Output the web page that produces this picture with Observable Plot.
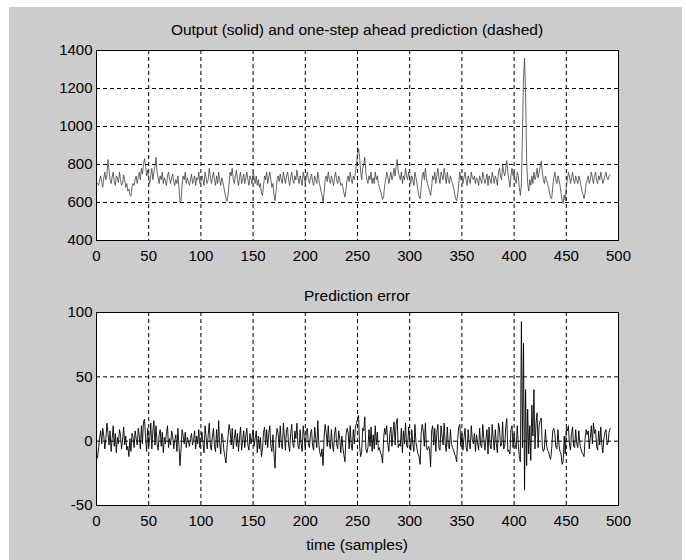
<!DOCTYPE html>
<html><head><meta charset="utf-8">
<script src="https://cdn.jsdelivr.net/npm/d3@7"></script>
<script src="https://cdn.jsdelivr.net/npm/@observablehq/plot@0.6"></script>
<style>
body{margin:0;background:#fff;}
#fig{position:relative;width:686px;height:560px;background:#fff;overflow:hidden;font-family:"Liberation Sans",Arial,sans-serif;}
#bg{position:absolute;left:9px;top:7px;width:673px;height:553px;background:#cccccc;}
.t{position:absolute;font-size:15.5px;line-height:16px;color:#000;white-space:nowrap;transform:translateX(-50%);}
#fig svg{position:absolute;left:0;top:0;}
</style></head><body>
<div id="fig"><div id="bg"></div></div>
<script>
const titleTop = "Output (solid) and one-step ahead prediction (dashed)";
const titleBottom = "Prediction error";
const xLabel = "time (samples)";
const xTicks = [0, 50, 100, 150, 200, 250, 300, 350, 400, 450, 500];
const yTicksTop = [400, 600, 800, 1000, 1200, 1400];
const yTicksBottom = [-50, 0, 50, 100];

// measured output, samples 1..492
const output = [
700,690,720,740,705,680,730,760,720,745,
826,770,720,700,735,760,710,690,740,730,
705,760,720,690,700,745,720,680,700,660,
670,640,633,680,700,690,720,740,700,730,
760,720,780,750,800,831,790,740,770,720,
700,740,780,720,760,790,837,760,730,700,
740,720,760,700,730,710,690,740,760,720,
700,730,750,710,690,720,700,740,680,602,
610,690,740,720,760,700,730,710,690,720,
750,700,720,740,690,730,720,760,700,710,
740,720,690,760,730,700,720,780,740,700,
730,760,720,690,740,700,760,720,690,730,
710,680,650,620,607,640,700,760,740,780,
720,700,740,770,720,690,730,760,700,720,
750,700,730,760,720,690,740,720,700,760,
730,700,740,690,720,680,700,650,637,690,
740,720,760,700,730,760,720,680,700,640,
610,660,720,740,710,750,720,700,760,730,
700,740,760,720,690,730,760,720,700,740,
720,770,730,700,740,720,690,760,730,700,
740,760,720,700,730,750,710,690,740,720,
700,760,720,690,660,640,602,650,720,740,
710,760,720,700,740,720,690,730,760,720,
700,740,720,690,700,680,650,628,670,720,
740,710,760,720,700,740,720,760,800,860,
884,840,760,720,780,800,838,760,720,700,
740,720,760,700,730,700,760,720,740,700,
680,660,640,616,630,690,720,760,740,700,
730,760,720,740,780,740,790,826,760,740,
720,760,700,740,720,780,740,720,760,730,
700,740,720,690,760,730,700,660,630,620,
680,740,760,720,780,730,700,680,660,637,
680,740,720,760,700,740,780,730,700,760,
740,720,780,740,700,760,720,700,740,720,
700,680,650,620,610,640,700,760,720,740,
700,730,760,720,690,740,720,700,760,730,
720,740,700,730,720,690,740,720,700,760,
730,700,720,750,690,740,720,700,760,730,
700,740,720,690,760,780,740,720,800,760,
740,780,821,760,720,680,740,780,740,760,
720,700,760,740,680,637,700,960,1250,1360,
1180,820,700,660,720,690,740,700,760,720,
740,780,730,760,790,817,760,720,700,740,
720,700,680,650,625,620,680,730,760,720,
700,740,720,690,650,610,595,640,610,680,
720,760,740,700,730,760,720,700,740,720,
700,740,720,690,660,640,620,650,700,720,
740,700,720,760,730,700,740,760,720,700,
740,720,760,730,700,720,740,760,730,720,
740,745
];

// measured prediction error, samples 1..492
const error = [
-13,-5,3,8,-2,10,4,-6,2,14,
6,-3,8,-8,2,12,-4,6,-9,3,
-2,9,5,-6,1,11,-3,4,-7,-4,
-12,2,-8,6,3,-5,8,2,-3,10,
4,-6,12,-2,15,17,3,-8,10,-4,
2,14,-6,8,16,-3,12,-2,-7,5,
9,-4,7,-9,3,-2,6,12,-5,2,
-3,8,4,-6,1,5,-8,10,-4,-19,
-6,9,4,-2,7,-5,3,0,-4,2,
6,-3,1,8,-6,4,-2,9,-5,1,
7,-2,-9,12,3,-6,5,14,-3,-7,
4,10,-4,-8,9,-5,16,-2,-10,6,
3,-7,-12,-17,-5,4,13,8,-3,10,
-6,2,9,-4,6,-8,3,11,-7,1,
8,-5,4,10,-3,-7,6,-2,3,9,
-4,2,8,-9,4,-6,3,-12,-6,7,
11,-3,9,-5,6,12,-4,-8,5,-10,
-21,3,10,6,-5,12,-2,-6,14,4,
-7,9,11,-3,-8,6,13,-2,-5,8,
2,14,-4,-6,9,-2,-8,12,3,-7,
8,10,-3,-5,6,9,-4,-7,11,2,
-5,16,-3,-9,-12,-6,-19,3,13,7,
-4,12,-2,-6,9,-3,-8,6,11,-2,
-6,8,2,-9,4,-5,-11,-16,5,10,
7,-6,12,-3,-7,9,-2,11,14,17,
20,-4,-12,-8,10,8,19,-6,-9,-5,
9,-4,11,-8,5,-6,12,-3,7,-7,
-5,-9,-11,-17,2,10,5,12,-2,-8,
6,11,-4,7,15,-3,13,17.6,-5,-2,
-4,10,-9,8,-2,14,-3,-5,11,2,
-7,9,-2,-8,13,-1,-6,-10,-12,-18,
6,13,8,-4,14,-5,-7,-4,-6,-20,
8,12,-3,10,-8,7,13,-5,-7,12,
4,-3,14,-2,-8,11,-4,-6,9,-2,
-5,-7,-10,-12,-16,2,11,13,-4,6,
-7,3,10,-5,-8,9,-2,-6,12,1,
-2,6,-8,5,-1,-7,10,-3,-5,13,
2,-7,1,9,-10,11,-3,-6,13,2,
-7,9,-2,-9,14,10,-4,-3,15,-6,
-4,11,17.6,-8,-7,-10,9,12,-5,6,
-3,-6,12,-2,-12,-16,93,-5,76,-38,
40,-19,25,-10,12,-15,28,4,40,-6,
14,22,-5,12,16,18,-4,-8,-6,9,
-3,-7,-8,-12,-14,-6,8,10,6,-5,
-6,9,-3,-8,-10,-18,-16,4,-10,10,
8,12,-2,-7,6,11,-4,-5,9,-2,
-5,8,-2,-6,-9,-10,-12,2,9,5,
8,-6,3,12,-2,14,6,9,-4,-7,
8,-3,11,-2,-9,2,7,9,-3,-1,
7,10
];

const topData = output.map((v, i) => ({t: i + 1, v}));
const botData = error.map((v, i) => ({t: i + 1, v}));
const FONT = '"Liberation Sans",Arial,sans-serif';
const fmt = d => String(d);

function panel({data, yDomain, yTicks, mTop, mBottom, stroke, sw}) {
  return Plot.plot({
    width: 686, height: 560,
    marginLeft: 96, marginRight: 68, marginTop: mTop, marginBottom: mBottom,
    x: {domain: [0, 500]},
    y: {domain: yDomain},
    style: {background: "transparent", fontFamily: FONT, fontSize: "15px", color: "#000", overflow: "visible"},
    marks: [
      Plot.frame({fill: "white", stroke: "none"}),
      Plot.gridX(xTicks, {stroke: "#000", strokeOpacity: 1, strokeWidth: 1, strokeDasharray: "4,3"}),
      Plot.gridY(yTicks, {stroke: "#000", strokeOpacity: 1, strokeWidth: 1, strokeDasharray: "4,3"}),
      Plot.line(data, {x: "t", y: "v", stroke, strokeWidth: sw}),
      Plot.frame({stroke: "#000", strokeWidth: 1}),
      Plot.axisX(xTicks, {tickSize: 0, tickPadding: 10, label: null, fontSize: 15, tickFormat: fmt}),
      Plot.axisY(yTicks, {tickSize: 0, tickPadding: 4, label: null, fontSize: 15, tickFormat: fmt})
    ]
  });
}

const fig = document.getElementById("fig");
fig.appendChild(panel({data: topData, yDomain: [400, 1400], yTicks: yTicksTop, mTop: 50, mBottom: 320, stroke: "#404040", sw: 0.8}));
fig.appendChild(panel({data: botData, yDomain: [-50, 100], yTicks: yTicksBottom, mTop: 312, mBottom: 55, stroke: "#000", sw: 0.9}));

function label(text, cx, top) {
  const d = document.createElement("div");
  d.className = "t";
  d.textContent = text;
  d.style.left = cx + "px";
  d.style.top = top + "px";
  fig.appendChild(d);
}
label(titleTop, 357, 22);
label(titleBottom, 357, 288);
label(xLabel, 357, 537);
</script>
</body></html>
